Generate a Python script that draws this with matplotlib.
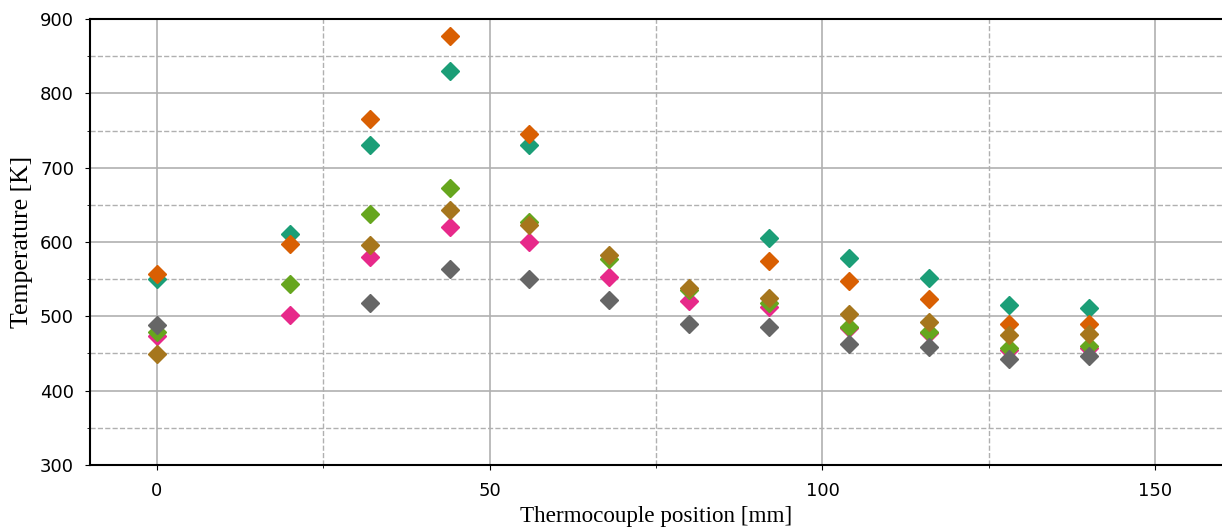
import matplotlib
matplotlib.use("Agg")
import matplotlib.pyplot as plt
from matplotlib.ticker import MultipleLocator
import numpy as np

nan = np.nan

positions = [0, 20, 32, 44, 56, 68, 80, 92, 104, 116, 128, 140]

series_teal = [550, 611, 730, 830, 730, nan, nan, 606, 578, 551, 515, 511]
series_orange = [557, 597, 765, 877, 745, nan, nan, 574, 547, 523, 490, 490]
series_pink = [474, 502, 580, 620, 600, 553, 521, 513, 484, 477, 455, 458]
series_green = [479, 543, 638, 673, 627, 577, 536, 518, 485, 479, 457, 460]
series_brown = [449, nan, 596, 643, 623, 582, 538, 524, 503, 492, 475, 476]
series_gray = [488, nan, 518, 564, 550, 522, 490, 485, 463, 459, 443, 447]

colors = ["#1b9e77", "#d95f02", "#e7298a", "#66a61e", "#a6761d", "#666666"]


def main():
    fig = plt.figure(figsize=(12.22, 5.27), dpi=100)
    ax = fig.add_axes([90 / 1222, 62 / 527, 1 - 90 / 1222, 446 / 527])

    all_series = [series_teal, series_orange, series_pink,
                  series_green, series_brown, series_gray]
    for vals, c in zip(all_series, colors):
        ax.plot(positions, vals, linestyle="none", marker="D",
                markersize=9.5, color=c, zorder=3)

    ax.set_xlim(-10, 160)
    ax.set_ylim(300, 900)
    ax.xaxis.set_major_locator(MultipleLocator(50))
    ax.xaxis.set_minor_locator(MultipleLocator(25))
    ax.yaxis.set_major_locator(MultipleLocator(100))
    ax.yaxis.set_minor_locator(MultipleLocator(50))

    ax.grid(which="major", color="#b0b0b0", linestyle="-", linewidth=1.2)
    ax.grid(which="minor", color="#b0b0b0", linestyle="--", linewidth=1.0)
    ax.set_axisbelow(True)

    ax.spines["right"].set_visible(False)
    for s in ["left", "bottom", "top"]:
        ax.spines[s].set_linewidth(1.5)

    ax.tick_params(which="major", labelsize=13, length=3.5)
    ax.tick_params(axis="y", which="major", pad=8)
    ax.tick_params(axis="x", which="major", pad=9)
    ax.set_xlabel("Thermocouple position [mm]", family="Liberation Serif",
                  fontsize=16.7, labelpad=4)
    ax.set_ylabel("Temperature [K]", family="Liberation Serif",
                  fontsize=18.5, labelpad=5)

    fig.savefig("out.png", dpi=100)


if __name__ == "__main__":
    main()
